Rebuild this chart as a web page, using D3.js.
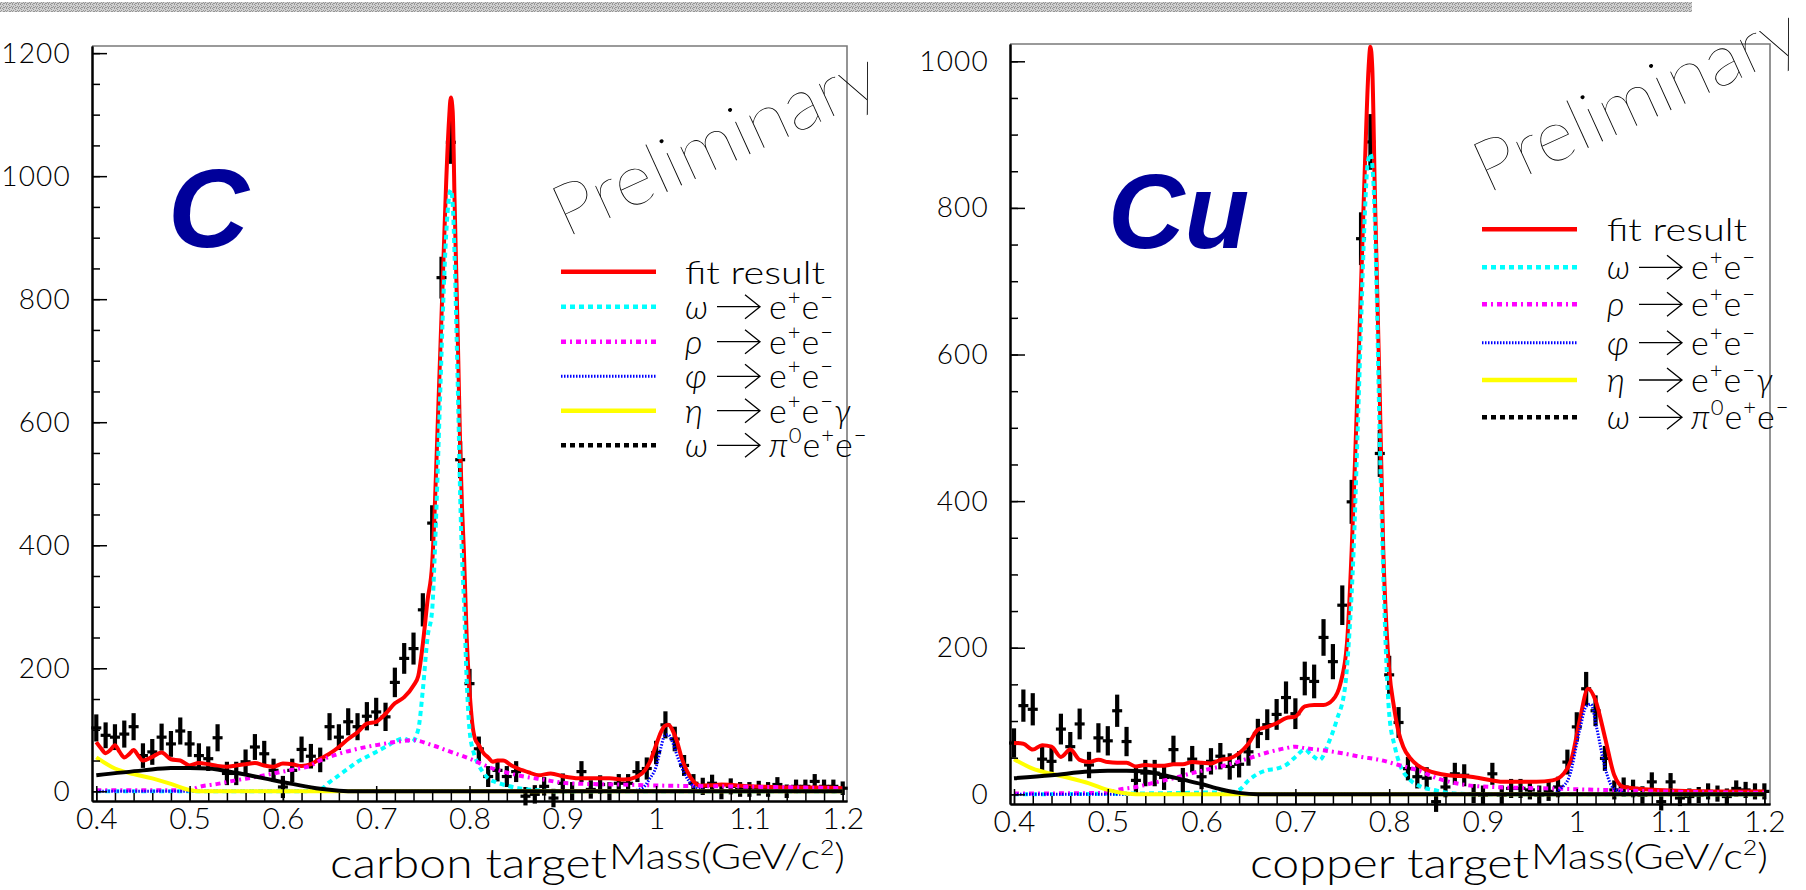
<!DOCTYPE html>
<html>
<head>
<meta charset="utf-8">
<script src="https://cdn.jsdelivr.net/npm/d3@7"></script>
<style>
  html, body { margin: 0; padding: 0; background: #fff; }
  svg text { font-family: Lato, "Open Sans", sans-serif; font-weight: 300; }
</style>
</head>
<body>
<svg id="chart" width="1806" height="890"></svg>
<script>
// Invariant-mass bin centres (GeV/c^2)
const massBins = [
  0.40,0.41,0.42,0.43,0.44,0.45,0.46,0.47,0.48,0.49,
  0.50,0.51,0.52,0.53,0.54,0.55,0.56,0.57,0.58,0.59,
  0.60,0.61,0.62,0.63,0.64,0.65,0.66,0.67,0.68,0.69,
  0.70,0.71,0.72,0.73,0.74,0.75,0.76,0.77,0.78,0.79,
  0.80,0.81,0.82,0.83,0.84,0.85,0.86,0.87,0.88,0.89,
  0.90,0.91,0.92,0.93,0.94,0.95,0.96,0.97,0.98,0.99,
  1.00,1.01,1.02,1.03,1.04,1.05,1.06,1.07,1.08,1.09,
  1.10,1.11,1.12,1.13,1.14,1.15,1.16,1.17,1.18,1.19,1.20];

// Carbon target: background-subtracted e+e- counts and errors
const carbonCounts = [
  103,91,88,93,105,58,64,88,77,98,
  77,58,53,87,29,29,48,72,61,34,
  7,34,68,57,51,105,88,113,105,122,
  129,121,177,216,232,295,436,835,1055,539,
  175,69,24,34,24,32,-8,-5,8,-11,
  13,0,32,3,11,0,13,13,32,37,
  63,108,85,42,13,8,13,0,8,3,
  3,5,3,11,0,8,8,16,8,8,5];
const carbonErrors = [
  22,21,21,22,22,20,21,22,21,22,
  21,20,20,22,19,19,20,21,21,19,
  18,19,21,20,20,22,21,22,22,23,
  23,23,24,25,26,27,29,34,35,30,
  24,20,17,18,17,17,15,15,15,15,
  16,15,17,15,15,15,15,15,17,18,
  19,22,20,17,15,14,14,13,13,12,
  12,12,12,12,11,11,11,12,11,11,11];

// Copper target
const copperCounts = [
  70,121,116,48,45,89,65,96,40,77,
  73,114,72,19,29,29,23,61,19,48,
  24,45,52,38,41,58,83,95,109,132,
  110,158,154,214,181,258,399,758,890,465,
  163,98,35,24,22,-10,10,28,26,1,
  -1,28,-1,8,8,6,-1,4,10,44,
  92,144,114,49,6,10,8,-1,17,-10,
  17,-5,-3,-1,4,1,-3,8,6,4,4];
const copperErrors = [
  20,22,22,19,19,21,20,21,18,20,
  20,22,20,17,18,18,17,19,17,18,
  17,18,18,18,18,19,20,21,21,22,
  21,23,23,25,24,27,30,36,38,32,
  26,21,16,16,15,14,14,15,15,13,
  13,15,13,13,13,13,13,13,14,17,
  20,23,21,17,13,13,12,12,13,12,
  12,11,11,11,11,11,11,11,11,11,11];

// Fit components, carbon target: [mass, counts]
const carbonFit = [[0.400,80],[0.405,70],[0.410,62],[0.415,67],[0.420,75],[0.425,64],[0.430,55],[0.435,60],
  [0.440,67],[0.445,58],[0.450,50],[0.460,56],[0.470,63],[0.480,52],[0.490,50],[0.500,42],[0.510,46],
  [0.520,44],[0.530,41],[0.540,40],[0.550,42],[0.560,44],[0.570,46],[0.580,42],[0.590,40],[0.600,45],
  [0.610,44],[0.620,41],[0.630,44],[0.640,53],[0.650,61],[0.660,72],[0.670,85],[0.680,96],[0.690,110],
  [0.700,113],[0.710,126],[0.720,143],[0.730,153],[0.740,172],[0.745,187],[0.750,240],[0.755,310],
  [0.760,370],[0.763,470],[0.766,600],[0.769,730],[0.772,860],[0.775,990],[0.778,1090],[0.780,1128],
  [0.782,1105],[0.784,960],[0.786,830],[0.788,700],[0.790,560],[0.792,460],[0.794,390],[0.797,250],
  [0.800,165],[0.803,110],[0.806,85],[0.810,75],[0.815,62],[0.820,55],[0.825,48],[0.830,50],[0.836,50],
  [0.845,42],[0.852,37],[0.865,30],[0.874,26],[0.887,29],[0.901,24],[0.917,21],[0.935,21],[0.950,21],
  [0.966,19],[0.980,24],[0.988,34],[0.994,50],[0.999,71],[1.004,92],[1.009,106],[1.013,108],[1.018,98],
  [1.023,78],[1.027,56],[1.033,33],[1.040,16],[1.048,9],[1.060,10],[1.070,11],[1.100,8],[1.124,7],
  [1.150,6],[1.180,6],[1.200,5]];
const carbonOmega = [[0.400,0],[0.620,0],[0.630,1],[0.640,3],[0.650,15],[0.660,26],[0.670,37],[0.680,48],
  [0.690,56],[0.700,64],[0.710,72],[0.720,81],[0.730,86],[0.738,80],[0.745,100],[0.750,165],[0.755,250],
  [0.760,295],[0.763,395],[0.766,525],[0.769,665],[0.772,800],[0.775,905],[0.778,965],[0.780,978],
  [0.782,955],[0.784,870],[0.786,750],[0.788,620],[0.790,480],[0.792,380],[0.794,310],[0.797,180],
  [0.800,100],[0.805,60],[0.809,45],[0.815,30],[0.820,21],[0.828,15],[0.836,11],[0.852,5],[0.870,2],
  [0.900,0],[1.200,0]];
const carbonRho = [[0.400,1.5],[0.450,1.5],[0.500,2],[0.510,7],[0.530,12],[0.550,18],[0.570,23],[0.590,29],
  [0.610,35],[0.630,42],[0.640,50],[0.660,61],[0.680,69],[0.700,75],[0.720,80],[0.740,83],[0.760,75],
  [0.780,64],[0.800,53],[0.825,37],[0.852,26],[0.879,19],[0.906,13],[0.960,11],[1.015,9],[1.070,8],
  [1.200,5]];
const carbonPhi = [[0.400,0],[0.970,0],[0.985,5],[0.993,20],[1.000,40],[1.005,70],[1.009,90],[1.013,92],
  [1.017,82],[1.023,56],[1.030,30],[1.035,17],[1.040,8],[1.050,2],[1.060,0],[1.200,0]];
const carbonEta = [[0.400,55],[0.420,37],[0.440,28],[0.460,21],[0.480,12],[0.500,2],[0.510,0],[1.200,0]];
const carbonOmegaDalitz = [[0.400,26],[0.450,34],[0.480,38],[0.500,38],[0.520,37],[0.550,30],[0.580,21],
  [0.610,12],[0.640,4],[0.660,1],[0.680,0],[1.200,0]];

// Fit components, copper target
const copperFit = [[0.400,70],[0.410,69],[0.420,61],[0.430,67],[0.440,65],[0.450,51],[0.460,61],[0.470,47],
  [0.480,44],[0.490,47],[0.500,44],[0.510,43],[0.520,43],[0.530,38],[0.540,40],[0.550,39],[0.560,39],
  [0.570,41],[0.580,41],[0.590,44],[0.600,43],[0.610,42],[0.620,47],[0.630,49],[0.640,56],[0.650,69],
  [0.660,88],[0.670,92],[0.680,97],[0.690,104],[0.700,106],[0.710,120],[0.720,122],[0.730,122],[0.740,129],
  [0.748,151],[0.755,206],[0.760,333],[0.7635,452],[0.769,656],[0.7742,861],[0.778,990],[0.780,1020],
  [0.782,990],[0.7848,815],[0.790,542],[0.7937,333],[0.797,230],[0.800,170],[0.805,120],[0.810,85],
  [0.815,65],[0.822,50],[0.830,40],[0.840,33],[0.863,26],[0.887,24],[0.910,19],[0.922,17],[0.957,17],
  [0.974,19],[0.986,28],[0.995,51],[1.003,100],[1.012,144],[1.020,128],[1.030,78],[1.040,26],[1.050,10],
  [1.086,6],[1.145,4],[1.200,4]];
const copperOmega = [[0.400,0],[0.630,3],[0.640,6],[0.650,19],[0.660,28],[0.670,33],[0.680,35],[0.690,40],
  [0.700,51],[0.710,61],[0.717,54],[0.726,47],[0.735,69],[0.744,101],[0.753,147],[0.758,229],[0.762,330],
  [0.766,480],[0.770,640],[0.774,790],[0.777,860],[0.780,874],[0.783,840],[0.786,720],[0.790,480],
  [0.794,290],[0.797,180],[0.800,110],[0.806,65],[0.811,42],[0.822,20],[0.833,11],[0.851,5],[0.870,1],
  [0.900,0],[1.200,0]];
const copperRho = [[0.400,1],[0.500,2],[0.510,6],[0.530,10],[0.550,16],[0.570,22],[0.590,29],[0.610,35],
  [0.630,41],[0.650,49],[0.670,57],[0.690,63],[0.700,65],[0.710,63],[0.730,60],[0.750,56],[0.770,51],
  [0.790,47],[0.810,40],[0.830,33],[0.851,22],[0.880,13],[0.910,10],[0.970,8],[1.027,6],[1.086,4],
  [1.200,2]];
const copperPhi = [[0.400,0],[0.975,0],[0.983,8],[0.992,24],[1.003,87],[1.010,120],[1.015,123],[1.021,92],
  [1.030,37],[1.038,10],[1.050,2],[1.060,0],[1.200,0]];
const copperEta = [[0.400,48],[0.420,35],[0.440,28],[0.460,22],[0.480,15],[0.500,6],[0.520,1],[0.530,0],[1.200,0]];
const copperOmegaDalitz = [[0.400,22],[0.440,26],[0.480,31],[0.500,32],[0.520,32],[0.540,31],[0.560,26],
  [0.580,20],[0.600,14],[0.620,7],[0.640,2],[0.660,0],[1.200,0]];

// Axis ticks and labels
const xMajorTicks = [0.4,0.5,0.6,0.7,0.8,0.9,1.0,1.1,1.2];
const xTickLabels = ["0.4","0.5","0.6","0.7","0.8","0.9","1","1.1","1.2"];
const xMinorTicks = [0.40,0.42,0.44,0.46,0.48,0.50,0.52,0.54,0.56,0.58,0.60,0.62,0.64,0.66,0.68,0.70,0.72,
  0.74,0.76,0.78,0.80,0.82,0.84,0.86,0.88,0.90,0.92,0.94,0.96,0.98,1.00,1.02,1.04,1.06,1.08,1.10,1.12,
  1.14,1.16,1.18,1.20];
const carbonYTicks = [0,200,400,600,800,1000,1200];
const carbonYLabels = ["0","200","400","600","800","1000","1200"];
const carbonYMinor = [0,50,100,150,200,250,300,350,400,450,500,550,600,650,700,750,800,850,900,950,1000,1050,1100,1150,1200];
const copperYTicks = [0,200,400,600,800,1000];
const copperYLabels = ["0","200","400","600","800","1000"];
const copperYMinor = [0,50,100,150,200,250,300,350,400,450,500,550,600,650,700,750,800,850,900,950,1000];

// Legend entries: [text, role]
const legendRows = [
  [["fit result","plain"]],
  [["ω","greek"],["","arrow"],["e","plain"],["+","sup"],["e","plain"],["−","sup"]],
  [["ρ","greek"],["","arrow"],["e","plain"],["+","sup"],["e","plain"],["−","sup"]],
  [["φ","greek"],["","arrow"],["e","plain"],["+","sup"],["e","plain"],["−","sup"]],
  [["η","greek"],["","arrow"],["e","plain"],["+","sup"],["e","plain"],["−","sup"],["γ","greek"]],
  [["ω","greek"],["","arrow"],["π","greek"],["0","sup"],["e","plain"],["+","sup"],["e","plain"],["−","sup"]]
];

// curve styles: fit, omega, rho, phi, eta Dalitz, omega Dalitz
const styles = [
  {stroke:"#ff0000", width:4, dash:null},
  {stroke:"#00ffff", width:4, dash:"5,4"},
  {stroke:"#ff00ff", width:4, dash:"5,4,2,4"},
  {stroke:"#0000ff", width:3, dash:"1.5,1.5"},
  {stroke:"#ffff00", width:4, dash:null},
  {stroke:"#000000", width:4, dash:null}
];
const legendDash = [null, "5,4", "5,4,2,4", "1.5,1.5", null, "5,4"];

const svg = d3.select("#chart");
svg.append("rect").attr("width", 1806).attr("height", 890).attr("fill", "#fff");

// dithered grey strip along the top edge
const defs = svg.append("defs");
const pat = defs.append("pattern").attr("id", "dither").attr("width", 6).attr("height", 4)
  .attr("patternUnits", "userSpaceOnUse");
pat.append("rect").attr("width", 6).attr("height", 4).attr("fill", "#d0d0d0");
[[0,0],[3,1],[1,2],[4,3],[2,0],[5,2],[0,3],[3,3]].forEach(([a, b]) =>
  pat.append("rect").attr("x", a).attr("y", b).attr("width", 1).attr("height", 1).attr("fill", "#959595"));
svg.append("rect").attr("x", 0).attr("y", 2).attr("width", 1692).attr("height", 10).attr("fill", "url(#dither)");

const panels = [
  {
    left: 92, right: 847, top: 46, bottom: 801,
    xDomain: [0.3954, 1.2046], yDomain: [-15.8, 1211.6],
    counts: carbonCounts, errors: carbonErrors,
    curves: [carbonFit, carbonOmega, carbonRho, carbonPhi, carbonEta, carbonOmegaDalitz],
    yTicks: carbonYTicks, yLabels: carbonYLabels, yMinor: carbonYMinor,
    tag: "C", tagX: 168, tagY: 247, tagSize: 112,
    prelimX: 566, prelimY: 238,
    legLine: [561, 656], legRows: [271.7, 306.7, 341.7, 376.3, 410.7, 445.3], legText: 685,
    title: "carbon target", titleX: 330, titleLen: 277, massX: 609, massLen: 236
  },
  {
    left: 1010, right: 1770, top: 44, bottom: 804,
    xDomain: [0.39574, 1.2060], yDomain: [-13.2, 1023.6],
    counts: copperCounts, errors: copperErrors,
    curves: [copperFit, copperOmega, copperRho, copperPhi, copperEta, copperOmegaDalitz],
    yTicks: copperYTicks, yLabels: copperYLabels, yMinor: copperYMinor,
    tag: "Cu", tagX: 1108, tagY: 248, tagSize: 106,
    prelimX: 1487, prelimY: 194,
    legLine: [1482, 1577], legRows: [229.3, 267.3, 304.3, 342.7, 380, 417.3], legText: 1607,
    title: "copper target", titleX: 1250, titleLen: 279, massX: 1531, massLen: 237
  }
];

panels.forEach(p => {
  const x = d3.scaleLinear().domain(p.xDomain).range([p.left, p.right]);
  const y = d3.scaleLinear().domain(p.yDomain).range([p.bottom, p.top]);
  const g = svg.append("g");

  // upper and right frame edges
  g.append("path").attr("d", `M${p.left},${p.top}H${p.right}V${p.bottom}`)
    .attr("fill", "none").attr("stroke", "#7a7a7a").attr("stroke-width", 1.6);

  // data points with error bars
  const pts = g.append("g");
  massBins.forEach((m, i) => {
    const v = p.counts[i], e = p.errors[i];
    pts.append("line").attr("x1", x(m)).attr("x2", x(m)).attr("y1", y(v - e)).attr("y2", y(v + e))
      .attr("stroke", "#000").attr("stroke-width", 4.2);
    pts.append("line").attr("x1", x(m) - 5).attr("x2", x(m) + 5).attr("y1", y(v)).attr("y2", y(v))
      .attr("stroke", "#000").attr("stroke-width", 3.2);
  });

  // fit components
  const line = d3.line().x(d => x(d[0])).y(d => y(d[1])).curve(d3.curveMonotoneX);
  p.curves.forEach((c, k) => {
    const s = styles[k];
    g.append("path").attr("d", line(c)).attr("fill", "none").attr("stroke", s.stroke)
      .attr("stroke-width", s.width).attr("stroke-dasharray", s.dash).attr("stroke-linejoin", "round");
  });

  // axes
  const xAxis = d3.axisBottom(x).tickValues(xMajorTicks).tickFormat((d, i) => xTickLabels[i])
    .tickSizeInner(-15).tickSizeOuter(0).tickPadding(7);
  const xMinor = d3.axisBottom(x).tickValues(xMinorTicks).tickFormat("").tickSizeInner(-8).tickSizeOuter(0);
  const yAxis = d3.axisLeft(y).tickValues(p.yTicks).tickFormat((d, i) => p.yLabels[i])
    .tickSizeInner(-15).tickSizeOuter(0).tickPadding(21);
  const yMinor = d3.axisLeft(y).tickValues(p.yMinor).tickFormat("").tickSizeInner(-8).tickSizeOuter(0);

  const axes = [
    {ax: xMinor, tr: `translate(0,${p.bottom})`, size: 30, spacing: 0, minor: true},
    {ax: xAxis,  tr: `translate(0,${p.bottom})`, size: 30, spacing: 0, minor: false},
    {ax: yMinor, tr: `translate(${p.left},0)`,   size: 28, spacing: 1.2, minor: true},
    {ax: yAxis,  tr: `translate(${p.left},0)`,   size: 28, spacing: 1.2, minor: false}
  ];
  axes.forEach(({ax, tr, size, spacing, minor}) => {
    const a = g.append("g").attr("transform", tr).call(ax);
    a.select(".domain").attr("stroke", "#000").attr("stroke-width", 2);
    a.selectAll(".tick line").attr("stroke", "#000").attr("stroke-width", 1.5);
    if (minor) a.selectAll(".tick text").remove();
    a.selectAll("text").attr("font-family", "Lato, 'Open Sans', sans-serif").attr("font-weight", 300)
      .attr("font-size", size).attr("letter-spacing", spacing).attr("fill", "#000");
  });

  // axis title: "<target> Mass(GeV/c^2)"
  g.append("text").attr("x", p.titleX).attr("y", 878).attr("font-size", 42)
    .attr("textLength", p.titleLen).attr("lengthAdjust", "spacingAndGlyphs").text(p.title);
  const mt = g.append("text").attr("x", p.massX).attr("y", 869).attr("font-size", 35)
    .attr("textLength", p.massLen).attr("lengthAdjust", "spacingAndGlyphs");
  mt.append("tspan").text("Mass(GeV/c");
  mt.append("tspan").attr("dy", -14).attr("font-size", 21).text("2");
  mt.append("tspan").attr("dy", 14).text(")");

  // target label
  g.append("text").attr("x", p.tagX).attr("y", p.tagY).attr("font-size", p.tagSize)
    .style("font-family", "'Liberation Sans', Arial, sans-serif").style("font-weight", 700)
    .style("font-style", "italic").attr("fill", "#00009a").text(p.tag);

  // watermark
  g.append("text").attr("transform", `translate(${p.prelimX},${p.prelimY}) rotate(-24.5)`)
    .attr("font-size", 72).attr("textLength", 350).attr("lengthAdjust", "spacingAndGlyphs")
    .style("font-weight", 200).text("Preliminary");

  // legend
  const leg = g.append("g");
  p.legRows.forEach((ry, r) => {
    const s = styles[r];
    leg.append("line").attr("x1", p.legLine[0]).attr("x2", p.legLine[1]).attr("y1", ry).attr("y2", ry)
      .attr("stroke", s.stroke).attr("stroke-width", r === 3 ? 3 : 4.5)
      .attr("stroke-dasharray", legendDash[r]);
    const parts = legendRows[r];
    if (parts.length === 1) {
      leg.append("text").attr("x", p.legText).attr("y", ry + 12).attr("font-size", 31)
        .attr("textLength", 140).attr("lengthAdjust", "spacingAndGlyphs").text(parts[0][0]);
      return;
    }
    // decaying meson
    leg.append("text").attr("x", p.legText).attr("y", ry + 12).attr("font-size", 34)
      .style("font-style", "italic").text(parts[0][0]);
    // arrow
    const a0 = p.legText + 32, a1 = p.legText + 75;
    leg.append("path").attr("d", `M${a0},${ry}H${a1}M${a1 - 15},${ry - 12}L${a1},${ry}L${a1 - 15},${ry + 12}`)
      .attr("fill", "none").attr("stroke", "#000").attr("stroke-width", 1.3);
    // decay products
    const t = leg.append("text").attr("x", p.legText + 84).attr("y", ry + 12).attr("font-size", 34);
    let raised = false;
    parts.slice(2).forEach(([txt, role]) => {
      const sp = t.append("tspan").text(txt);
      if (role === "sup") {
        sp.attr("font-size", 22).attr("dy", raised ? 0 : -14).attr("dx", 1);
        raised = true;
      } else {
        sp.attr("dy", raised ? 14 : 0).attr("dx", raised ? 1 : 0);
        raised = false;
        if (role === "greek") sp.style("font-style", "italic");
      }
    });
  });
});
</script>
</body>
</html>
